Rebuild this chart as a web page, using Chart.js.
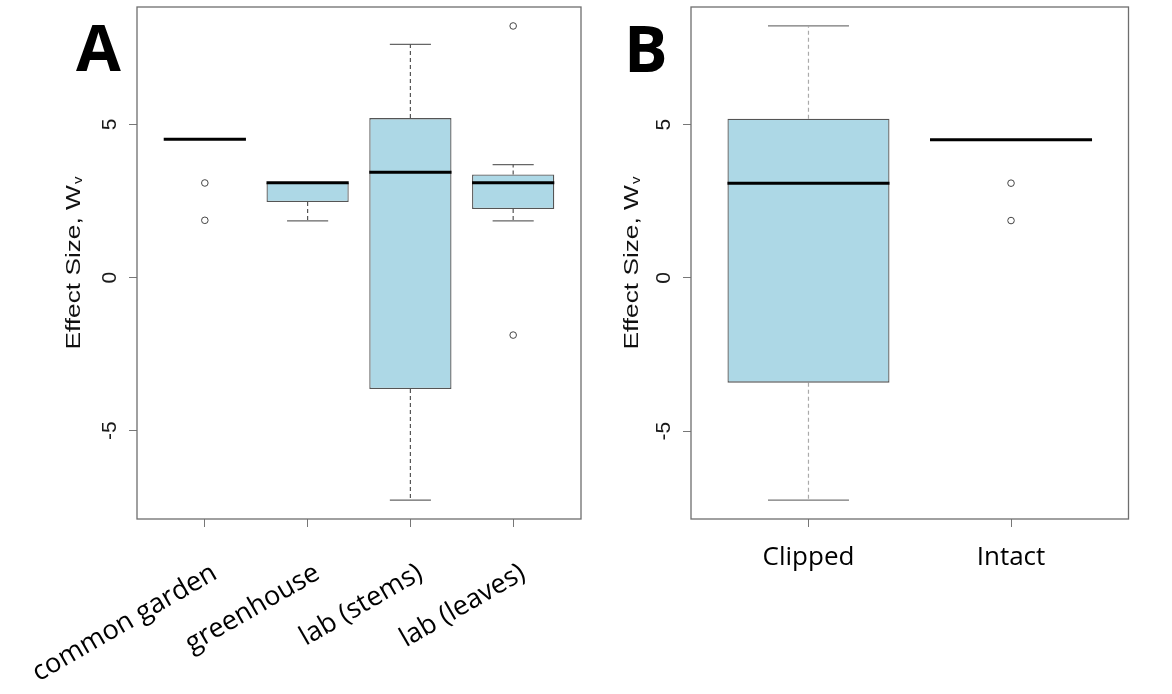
<!DOCTYPE html>
<html>
<head>
<meta charset="utf-8">
<script src="https://cdn.jsdelivr.net/npm/chart.js@4.4.1/dist/chart.umd.min.js"></script>
<style>
html, body { margin: 0; padding: 0; background: #fff; }
#wrap { position: relative; width: 1172px; height: 694px; overflow: hidden; background: #fff; }
canvas { position: absolute; top: 0; }
#chartA { left: 0; }
#chartB { left: 586px; }
</style>
</head>
<body>
<div id="wrap">
  <canvas id="chartA" width="586" height="694"></canvas>
  <canvas id="chartB" width="586" height="694"></canvas>
</div>
<script>
// ---------- Panel A data (box-plot statistics) ----------
const categoriesA = ['common garden', 'greenhouse', 'lab (stems)', 'lab (leaves)'];
const lowerWhiskerA = [4.52, 1.85, -7.27, 1.85];
const q1A = [4.52, 2.47, -3.64, 2.24];
const medianA = [4.52, 3.10, 3.44, 3.10];
const q3A = [4.52, 3.10, 5.21, 3.37];
const upperWhiskerA = [4.52, 3.10, 7.62, 3.69];
const outliersA = [[3.09, 1.87], [], [], [8.22, -1.88]];

// ---------- Panel B data ----------
const categoriesB = ['Clipped', 'Intact'];
const lowerWhiskerB = [-7.25, 4.51];
const q1B = [-3.42, 4.51];
const medianB = [3.09, 4.51];
const q3B = [5.19, 4.51];
const upperWhiskerB = [8.22, 4.51];
const outliersB = [[], [3.09, 1.87]];

// ---------- Axis tick values ----------
const yTickValues = [-5, 0, 5];
const yTitle = 'Effect Size, W';
const yTitleSub = 'v';

// ---------- Styling constants ----------
const BOX_WIDTH = 0.8;   // fraction of category spacing (R default)
const STAPLE = 0.5;      // whisker cap width relative to box width
const BOX_FILL = '#ADD8E6';

function rRange(lo, hi) {           // R's 4% axis extension
  const d = (hi - lo) * 0.04;
  return [lo - d, hi + d];
}

const labelPlugin = {
  id: 'panelText',
  afterDatasetsDraw(chart) {
    const { ctx, chartArea: a } = chart;
    ctx.save();
    ctx.strokeStyle = '#6e6e6e';
    ctx.lineWidth = 1.3;
    ctx.strokeRect(a.left, a.top, a.right - a.left, a.bottom - a.top);
    ctx.restore();
  },
  afterDraw(chart) {
    const o = chart.options.plugins.panelText;
    const { ctx, chartArea: a } = chart;
    ctx.save();
    // panel letter
    ctx.fillStyle = '#000';
    ctx.textAlign = 'left';
    ctx.textBaseline = 'alphabetic';
    ctx.font = 'bold 65px "Open Sans", "Liberation Sans", sans-serif';
    ctx.fillText(o.letter, o.letterX, o.letterY);
    // y axis title with subscript
    ctx.translate(a.left - o.titleGap, (a.top + a.bottom) / 2);
    ctx.rotate(-Math.PI / 2);
    ctx.scale(1.25, 1);
    ctx.fillStyle = '#111';
    const mainFont = '21px "Liberation Sans", Arial, sans-serif';
    const subFont = '12px "Liberation Sans", Arial, sans-serif';
    ctx.font = mainFont;
    const w1 = ctx.measureText(o.title).width;
    ctx.font = subFont;
    const w2 = ctx.measureText(o.sub).width;
    const start = -(w1 + w2 + 1) / 2;
    ctx.font = mainFont;
    ctx.fillText(o.title, start, 0);
    ctx.font = subFont;
    ctx.fillText(o.sub, start + w1 + 1, 2);
    ctx.restore();
  }
};

function makeBoxChart(canvasId, d, layout) {
  const n = d.cats.length;
  const xMin = 0.5 - 0.04 * n, xMax = n + 0.5 + 0.04 * n;
  const allVals = d.lower.concat(d.upper, d.outliers.flat());
  const [yMin, yMax] = rRange(Math.min(...allVals), Math.max(...allVals));
  const half = BOX_WIDTH / 2;
  const cap = BOX_WIDTH * STAPLE / 2;

  const boxData = d.cats.map((c, i) => ({ x: i + 1, y: [d.q1[i], d.q3[i]] }));
  const medianPts = d.cats.flatMap((c, i) => [
    { x: i + 1 - half, y: d.med[i] }, { x: i + 1 + half, y: d.med[i] }, { x: i + 1.5, y: null }
  ]);
  const whiskerPts = d.cats.flatMap((c, i) => [
    { x: i + 1, y: d.q3[i] }, { x: i + 1, y: d.upper[i] }, { x: i + 1, y: null },
    { x: i + 1, y: d.q1[i] }, { x: i + 1, y: d.lower[i] }, { x: i + 1, y: null }
  ]);
  const capPts = d.cats.flatMap((c, i) => [
    { x: i + 1 - cap, y: d.upper[i] }, { x: i + 1 + cap, y: d.upper[i] }, { x: i + 1.5, y: null },
    { x: i + 1 - cap, y: d.lower[i] }, { x: i + 1 + cap, y: d.lower[i] }, { x: i + 1.5, y: null }
  ]);
  const outlierPts = d.cats.flatMap((c, i) => d.outliers[i].map(v => ({ x: i + 1, y: v })));

  return new Chart(document.getElementById(canvasId), {
    type: 'bar',
    data: {
      datasets: [
        { type: 'line', label: 'median', order: 0, data: medianPts, borderColor: '#000',
          borderWidth: 3, pointRadius: 0, spanGaps: false, borderCapStyle: 'butt' },
        { type: 'scatter', label: 'outliers', order: 0, data: outlierPts, pointRadius: 3.3,
          pointBorderWidth: 1, pointBorderColor: '#444', pointBackgroundColor: 'rgba(0,0,0,0)', showLine: false },
        { type: 'bar', label: 'box', order: 1, data: boxData, backgroundColor: BOX_FILL,
          borderColor: '#555', borderWidth: 1.3, borderSkipped: false,
          barPercentage: BOX_WIDTH, categoryPercentage: 1, grouped: false },
        { type: 'line', label: 'whisker', order: 2, data: whiskerPts, borderColor: layout.whiskerColor,
          borderWidth: 1.2, borderDash: [4, 3], pointRadius: 0, spanGaps: false },
        { type: 'line', label: 'cap', order: 2, data: capPts, borderColor: layout.capColor,
          borderWidth: 1.3, pointRadius: 0, spanGaps: false, borderCapStyle: 'butt' }
      ]
    },
    options: {
      responsive: false,
      animation: false,
      devicePixelRatio: 1,
      events: [],
      layout: { padding: { top: 7, right: layout.rightPad, left: 0, bottom: 0 } },
      plugins: {
        legend: { display: false },
        tooltip: { enabled: false },
        panelText: { letter: layout.letter, letterX: layout.letterX, letterY: layout.letterY,
                     titleGap: layout.titleGap, title: yTitle, sub: yTitleSub }
      },
      scales: {
        x: {
          type: 'linear', min: xMin, max: xMax, offset: false, bounds: 'data',
          afterBuildTicks: s => { s.ticks = d.cats.map((c, i) => ({ value: i + 1 })); },
          afterFit: s => { s.height = 175; s.paddingLeft = 0; s.paddingRight = 0; },
          ticks: {
            callback: v => d.cats[Math.round(v) - 1],
            autoSkip: false,
            minRotation: layout.rot, maxRotation: layout.rot,
            padding: layout.xPad, labelOffset: layout.labelOffset,
            font: { family: '"Open Sans", sans-serif', size: layout.xFont },
            color: '#000'
          },
          grid: { drawOnChartArea: false, drawTicks: true, tickLength: 8, color: '#777', offset: false },
          border: { display: false }
        },
        y: {
          type: 'linear', min: yMin, max: yMax, bounds: 'data',
          afterBuildTicks: s => { s.ticks = yTickValues.map(v => ({ value: v })); },
          afterFit: s => { s.width = layout.yWidth; s.paddingTop = 0; s.paddingBottom = 0; },
          ticks: {
            callback: v => String(v),
            minRotation: 90, maxRotation: 90, crossAlign: 'center', padding: 9,
            font: { family: '"Liberation Sans", Arial, sans-serif', size: 21 },
            color: '#1a1a1a'
          },
          grid: { drawOnChartArea: false, drawTicks: true, tickLength: 8, color: '#777' },
          border: { display: false }
        }
      }
    },
    plugins: [labelPlugin]
  });
}

makeBoxChart('chartA', {
  cats: categoriesA, lower: lowerWhiskerA, q1: q1A, med: medianA, q3: q3A,
  upper: upperWhiskerA, outliers: outliersA
}, { letter: 'A', letterX: 76, letterY: 71, titleGap: 57, rightPad: 4, yWidth: 137,
     rot: 30, xPad: 30, labelOffset: 10, xFont: 27, whiskerColor: '#555', capColor: '#666' });

makeBoxChart('chartB', {
  cats: categoriesB, lower: lowerWhiskerB, q1: q1B, med: medianB, q3: q3B,
  upper: upperWhiskerB, outliers: outliersB
}, { letter: 'B', letterX: 38, letterY: 72, titleGap: 53, rightPad: 43.5, yWidth: 105,
     rot: 0, xPad: 15, labelOffset: 0, xFont: 26, whiskerColor: '#aaa', capColor: '#777' });
</script>
</body>
</html>
